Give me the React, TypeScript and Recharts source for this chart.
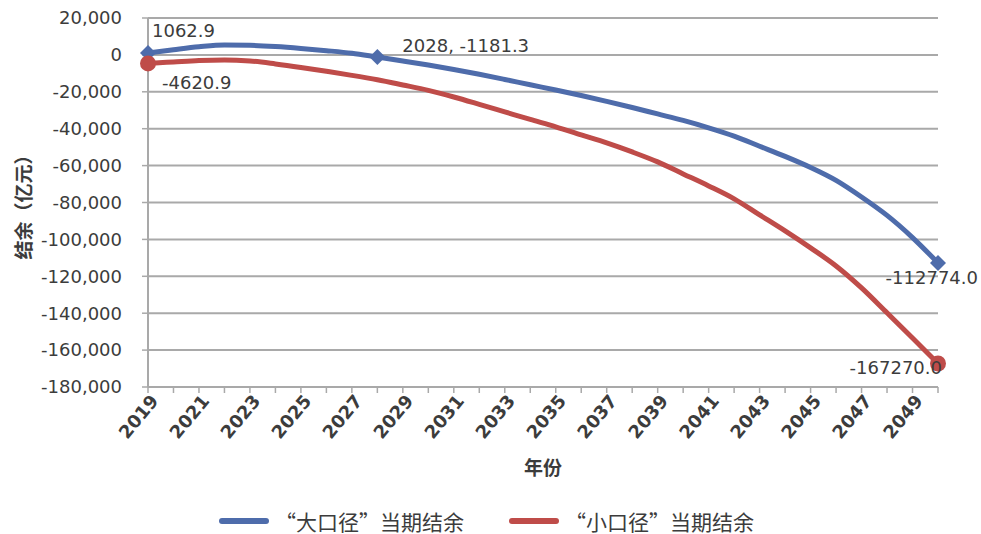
import React from 'react';
import { LineChart, Line, XAxis, YAxis, CartesianGrid, Legend } from 'recharts';

// ─── Data ──────────────────────────────────────────────────────────────────
const years = [
  '2019', '2020', '2021', '2022', '2023', '2024', '2025', '2026',
  '2027', '2028', '2029', '2030', '2031', '2032', '2033', '2034',
  '2035', '2036', '2037', '2038', '2039', '2040', '2041', '2042',
  '2043', '2044', '2045', '2046', '2047', '2048', '2049', '2050',
];

// “大口径”当期结余 (亿元)
const largeBalance = [
  1062.9, 2800, 4400, 5400, 5200, 4500, 3500, 2300,
  900, -1181.3, -3300, -5500, -7900, -10500, -13300, -16200,
  -19000, -22000, -25200, -28500, -32000, -35500, -39500, -44000,
  -49500, -55000, -61000, -68000, -77000, -87000, -99000, -112774.0,
];

// “小口径”当期结余 (亿元)
const smallBalance = [
  -4620.9, -3800, -3000, -2700, -3300, -4900, -6800, -8900,
  -11100, -13500, -16300, -19200, -22800, -26800, -30900, -35000,
  -39000, -43400, -47700, -52600, -58000, -64500, -71000, -78000,
  -86700, -95400, -104600, -114400, -126300, -139800, -153400, -167270.0,
];

const yTicks = [
  20000, 0, -20000, -40000, -60000, -80000, -100000, -120000, -140000, -160000, -180000,
];

const largeName = '“大口径”当期结余';
const smallName = '“小口径”当期结余';

// point labels shown on the chart
const largeLabels: Record<number, string> = { 0: '1062.9', 9: '2028, -1181.3', 31: '-112774.0' };
const smallLabels: Record<number, string> = { 0: '-4620.9', 31: '-167270.0' };

// ─── Styles ────────────────────────────────────────────────────────────────
const BLUE = '#4E6CAB';
const RED = '#BF4C49';
const GRID = '#a9a9a9';
const TEXT = '#3c3c3c';
const NUM_FONT = "'DejaVu Sans', sans-serif";
const CJK_FONT = "'Noto Sans CJK SC', sans-serif";

// label placement: [dx, dy, anchor]
const largeLabelPos: Record<number, [number, number, string]> = {
  0: [4, -16, 'start'],
  9: [25, -5, 'start'],
  31: [40, 21, 'end'],
};
const smallLabelPos: Record<number, [number, number, string]> = {
  0: [14, 26, 'start'],
  31: [4, 10, 'end'],
};

const chartData = years.map((year, i) => ({
  year,
  large: largeBalance[i],
  small: smallBalance[i],
}));

const fmt = (v: number) => v.toLocaleString('en-US');

const XTick = (props: any) => {
  const { x, y, payload, index } = props;
  if (index % 2 !== 0) return null;
  return (
    <g transform={`translate(${x + 6},${y + 2})`}>
      <text
        x={0}
        y={0}
        dy={7}
        textAnchor="end"
        transform="rotate(-50)"
        fill={TEXT}
        fontSize={18}
        fontWeight="bold"
        fontFamily={NUM_FONT}
      >
        {payload.value}
      </text>
    </g>
  );
};

const makeDot = (kind: 'diamond' | 'circle', color: string, marks: Record<number, string>) =>
  (props: any) => {
    const { cx, cy, index } = props;
    if (!(index in marks)) return <g key={index} />;
    if (kind === 'diamond') {
      const s = 8;
      return (
        <path
          key={index}
          d={`M${cx},${cy - s} L${cx + s},${cy} L${cx},${cy + s} L${cx - s},${cy} Z`}
          fill={color}
        />
      );
    }
    return <circle key={index} cx={cx} cy={cy} r={8} fill={color} />;
  };

const makeLabel = (marks: Record<number, string>, pos: Record<number, [number, number, string]>) =>
  (props: any) => {
    const { x, y, index } = props;
    if (!(index in marks)) return null;
    const [dx, dy, anchor] = pos[index];
    return (
      <text
        key={index}
        x={x + dx}
        y={y + dy}
        textAnchor={anchor}
        fill={TEXT}
        fontSize={18}
        fontFamily={NUM_FONT}
      >
        {marks[index]}
      </text>
    );
  };

const renderLegend = () => (
  <div
    style={{
      display: 'flex',
      justifyContent: 'center',
      alignItems: 'center',
      paddingTop: 20,
      paddingRight: 8,
      height: 27,
      fontFamily: CJK_FONT,
      fontSize: 21,
      color: TEXT,
    }}
  >
    {[{ name: largeName, color: BLUE }, { name: smallName, color: RED }].map((item, i) => (
      <div key={item.name} style={{ display: 'flex', alignItems: 'center', marginLeft: i ? 45 : 0 }}>
        <span
          style={{
            display: 'inline-block',
            width: 50,
            height: 6,
            borderRadius: 3,
            background: item.color,
            marginRight: 6,
          }}
        />
        <span>{item.name}</span>
      </div>
    ))}
  </div>
);

export default function App() {
  return (
    <div style={{ position: 'absolute', left: 0, top: 0, width: 981, height: 534, background: '#fff' }}>
      <LineChart
        width={981}
        height={534}
        data={chartData}
        margin={{ top: 18, right: 43, left: 8, bottom: 0 }}
      >
        <CartesianGrid horizontal vertical={false} stroke={GRID} strokeWidth={2} />
        <XAxis
          dataKey="year"
          interval={0}
          height={100}
          tick={<XTick />}
          tickSize={6}
          tickLine={{ stroke: GRID, strokeWidth: 1.5 }}
          axisLine={{ stroke: GRID, strokeWidth: 2 }}
          label={{
            content: (p: any) => {
              const vb = p.viewBox;
              return (
                <text
                  x={vb.x + vb.width / 2}
                  y={vb.y + 88}
                  textAnchor="middle"
                  fill={TEXT}
                  fontSize={19}
                  fontWeight="bold"
                  fontFamily={CJK_FONT}
                >
                  年份
                </text>
              );
            },
          }}
        />
        <YAxis
          width={140}
          domain={[-180000, 20000]}
          ticks={yTicks}
          interval={0}
          tickFormatter={fmt}
          tickSize={6}
          tickMargin={20}
          tick={{ fill: TEXT, fontSize: 18, fontFamily: NUM_FONT }}
          tickLine={{ stroke: GRID, strokeWidth: 1.5 }}
          axisLine={{ stroke: GRID, strokeWidth: 2 }}
          label={{
            content: (p: any) => {
              const vb = p.viewBox;
              return (
                <text
                  transform={`translate(${vb.x + 14},${vb.y + vb.height / 2}) rotate(-90)`}
                  textAnchor="middle"
                  dominantBaseline="central"
                  fill={TEXT}
                  fontSize={19}
                  fontWeight="bold"
                  fontFamily={CJK_FONT}
                >
                  结余（亿元）
                </text>
              );
            },
          }}
        />
        <Legend
          verticalAlign="bottom"
          height={47}
          wrapperStyle={{ left: 0, width: 981 }}
          content={renderLegend}
        />
        <Line
          dataKey="large"
          name={largeName}
          type="monotone"
          stroke={BLUE}
          strokeWidth={5}
          dot={makeDot('diamond', BLUE, largeLabels)}
          activeDot={false}
          label={makeLabel(largeLabels, largeLabelPos)}
          isAnimationActive={false}
        />
        <Line
          dataKey="small"
          name={smallName}
          type="monotone"
          stroke={RED}
          strokeWidth={5}
          dot={makeDot('circle', RED, smallLabels)}
          activeDot={false}
          label={makeLabel(smallLabels, smallLabelPos)}
          isAnimationActive={false}
        />
      </LineChart>
    </div>
  );
}
